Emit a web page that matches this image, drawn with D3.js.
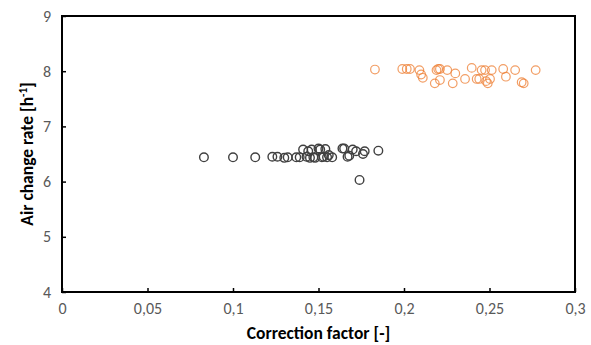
<!DOCTYPE html>
<html>
<head>
<meta charset="utf-8">
<script src="https://cdn.jsdelivr.net/npm/d3@7"></script>
<style>
  body { margin: 0; background: #fff; }
  text { font-family: Calibri, Carlito, "Open Sans", "Liberation Sans", sans-serif; }
</style>
</head>
<body>
<div id="chart"></div>
<script>
// data
const blackX = [0.083, 0.1, 0.113, 0.123, 0.126, 0.130, 0.132, 0.137, 0.139, 0.141, 0.143, 0.144, 0.145,
  0.146, 0.147, 0.148, 0.150, 0.151, 0.152, 0.153, 0.154, 0.155, 0.156, 0.158, 0.164, 0.165, 0.167,
  0.168, 0.170, 0.172, 0.174, 0.176, 0.177, 0.185];
const blackY = [6.44, 6.44, 6.44, 6.45, 6.45, 6.43, 6.44, 6.44, 6.44, 6.58, 6.45, 6.55, 6.43,
  6.58, 6.44, 6.43, 6.60, 6.58, 6.44, 6.45, 6.59, 6.44, 6.48, 6.44, 6.60, 6.60, 6.45,
  6.47, 6.58, 6.55, 6.03, 6.50, 6.55, 6.56];
const orangeX = [0.183, 0.199, 0.2016, 0.2035, 0.209, 0.210, 0.211, 0.219, 0.220, 0.221, 0.218, 0.221,
  0.2253, 0.230, 0.2285, 0.2357, 0.2396, 0.2425, 0.2454, 0.244, 0.2474, 0.248, 0.249, 0.2503,
  0.2513, 0.258, 0.2596, 0.265, 0.2688, 0.270, 0.277];
const orangeY = [8.03, 8.04, 8.04, 8.04, 8.02, 7.94, 7.88, 8.02, 8.04, 8.04, 7.78, 7.84,
  8.02, 7.96, 7.78, 7.86, 8.06, 7.86, 8.02, 7.86, 8.02, 7.82, 7.78, 7.86,
  8.02, 8.04, 7.90, 8.02, 7.80, 7.78, 8.02];
const xTicks = [0, 0.05, 0.1, 0.15, 0.2, 0.25, 0.3];
const yTicks = [4, 5, 6, 7, 8, 9];

const width = 591, height = 345;
const margin = {top: 16, right: 16, bottom: 53, left: 62};

const svg = d3.select('#chart').append('svg')
  .attr('width', width)
  .attr('height', height);

const x = d3.scaleLinear().domain([0, 0.3]).range([margin.left, width - margin.right]);
const y = d3.scaleLinear().domain([4, 9]).range([height - margin.bottom, margin.top]);

const fmt = d => String(d).replace('.', ',');

// x axis
const xAxis = svg.append('g')
  .attr('transform', 'translate(0,' + y(4) + ')')
  .call(d3.axisBottom(x).tickValues(xTicks).tickFormat(fmt).tickSize(-4).tickSizeOuter(0).tickPadding(11));
xAxis.select('.domain').remove();
xAxis.selectAll('line').attr('stroke', '#000').attr('stroke-width', 1.5);
xAxis.selectAll('text').attr('fill', '#595959').style('font-size', '16px');

// y axis
const yAxis = svg.append('g')
  .attr('transform', 'translate(' + x(0) + ',0)')
  .call(d3.axisLeft(y).tickValues(yTicks).tickFormat(d3.format('d')).tickSize(-4).tickSizeOuter(0).tickPadding(11));
yAxis.select('.domain').remove();
yAxis.selectAll('line').attr('stroke', '#000').attr('stroke-width', 1.5);
yAxis.selectAll('text').attr('fill', '#595959').style('font-size', '16px');

// frame
svg.append('rect')
  .attr('x', x(0)).attr('y', y(9))
  .attr('width', x(0.3) - x(0)).attr('height', y(4) - y(9))
  .attr('fill', 'none').attr('stroke', '#000').attr('stroke-width', 2);

// points
svg.append('g').selectAll('circle')
  .data(blackX.map((v, i) => [v, blackY[i]]))
  .join('circle')
  .attr('cx', d => x(d[0])).attr('cy', d => y(d[1])).attr('r', 4.3)
  .attr('fill', 'none').attr('stroke', '#404040').attr('stroke-width', 1.4);

svg.append('g').selectAll('circle')
  .data(orangeX.map((v, i) => [v, orangeY[i]]))
  .join('circle')
  .attr('cx', d => x(d[0])).attr('cy', d => y(d[1])).attr('r', 4.3)
  .attr('fill', 'none').attr('stroke', '#ED7D31').attr('stroke-opacity', 0.75).attr('stroke-width', 1.2);

// titles
svg.append('text')
  .attr('text-anchor', 'middle')
  .attr('x', (x(0) + x(0.3)) / 2)
  .attr('y', 339)
  .style('font-size', '17.5px').style('font-weight', 'bold').attr('fill', '#000')
  .text('Correction factor [-]');

const yt = svg.append('text')
  .attr('text-anchor', 'middle')
  .attr('transform', 'translate(33,' + ((y(4) + y(9)) / 2) + ') rotate(-90)')
  .style('font-size', '17.5px').style('font-weight', 'bold').attr('fill', '#000');
yt.append('tspan').text('Air change rate [h');
yt.append('tspan').attr('dy', -6).style('font-size', '11px').text('-1');
yt.append('tspan').attr('dy', 6).text(']');
</script>
</body>
</html>
